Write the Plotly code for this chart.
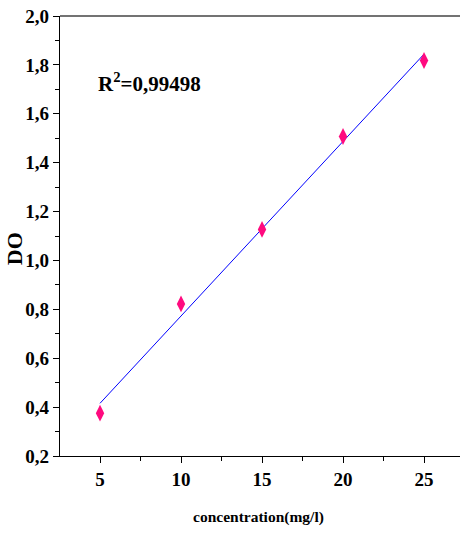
import numpy as np
import plotly.graph_objects as go

concentration = [5, 10, 15, 20, 25]
do_values = [0.375, 0.822, 1.127, 1.507, 1.818]
r2_label = "R<sup>2</sup>=0,99498"
x_title = "concentration(mg/l)"
y_title = "DO"

slope, intercept = np.polyfit(concentration, do_values, 1)
fit_x = [concentration[0], concentration[-1]]
fit_y = [slope * v + intercept for v in fit_x]

font_family = "Liberation Serif"

fig = go.Figure()
fig.add_trace(go.Scatter(x=fit_x, y=fit_y, mode="lines",
                         line=dict(color="#0000ff", width=1), showlegend=False))
fig.add_trace(go.Scatter(x=concentration, y=do_values, mode="markers",
                         marker=dict(symbol="diamond-tall", size=12, color="#ff0a7f",
                                     line=dict(width=0)), showlegend=False))

fig.update_layout(
    width=460, height=536,
    margin=dict(l=60, r=0, t=16, b=80),
    paper_bgcolor="white", plot_bgcolor="white",
    separators=",.",
    font=dict(family=font_family, color="black", size=18),
    xaxis=dict(range=[2.53, 27.22], tickmode="array", tickvals=[5, 10, 15, 20, 25],
               showgrid=False, zeroline=False, showline=True, linecolor="black", linewidth=1.2,
               ticks="outside", ticklen=6, tickwidth=1, tickcolor="black",
               minor=dict(tickvals=[7.5, 12.5, 17.5, 22.5], ticks="outside", ticklen=4,
                          tickwidth=1, tickcolor="black", showgrid=False),
               tickfont_size=19, tickfont_family=font_family, tickfont_weight="bold"),
    yaxis=dict(range=[0.2, 2.0], tickmode="array",
               tickvals=[0.2, 0.4, 0.6, 0.8, 1.0, 1.2, 1.4, 1.6, 1.8, 2.0],
               tickformat=".1f",
               showgrid=False, zeroline=False, showline=True, linecolor="black", linewidth=1.2,
               ticks="outside", ticklen=6, tickwidth=1, tickcolor="black",
               minor=dict(tickvals=[0.3, 0.5, 0.7, 0.9, 1.1, 1.3, 1.5, 1.7, 1.9], ticks="outside",
                          ticklen=4, tickwidth=1, tickcolor="black", showgrid=False),
               tickfont_size=19, tickfont_family=font_family, tickfont_weight="bold"),
    shapes=[dict(type="line", xref="paper", yref="paper", x0=0, x1=1, y0=1, y1=1,
                 line=dict(color="#444444", width=1.5))],
    annotations=[
        dict(text="<b>" + r2_label + "</b>", xref="paper", yref="paper", x=0.09, y=0.85,
             xanchor="left", yanchor="middle", showarrow=False,
             font=dict(family=font_family, size=21, color="black")),
        dict(text="<b>" + x_title + "</b>", xref="paper", yref="paper", x=0.495, y=-0.139,
             xanchor="center", yanchor="middle", showarrow=False,
             font=dict(family=font_family, size=15.5, color="black")),
        dict(text="<b>" + y_title + "</b>", xref="paper", yref="paper", x=-0.115, y=0.47,
             xanchor="center", yanchor="middle", showarrow=False, textangle=-90,
             font=dict(family=font_family, size=22, color="black")),
    ],
)

fig.write_html("out.html")
